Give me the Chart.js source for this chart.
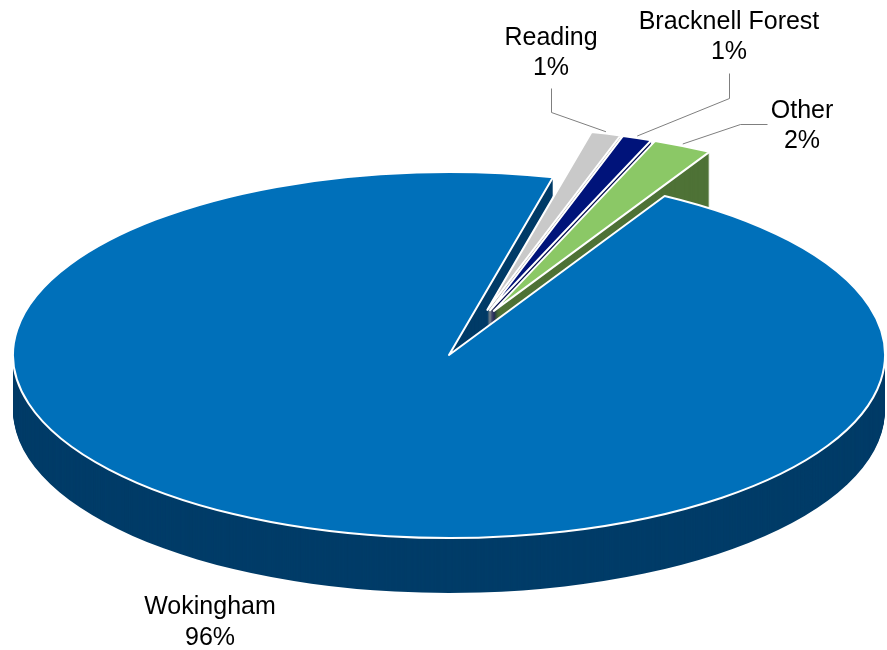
<!DOCTYPE html>
<html>
<head>
<meta charset="utf-8">
<script src="https://cdn.jsdelivr.net/npm/chart.js@4.4.1/dist/chart.umd.min.js"></script>
<style>
  html, body { margin: 0; padding: 0; background: #ffffff; }
  canvas { display: block; }
</style>
</head>
<body>
<canvas id="pie-chart" width="887" height="650"></canvas>
<script>
// values (labels show them rounded)
const categories = ['Reading', 'Bracknell Forest', 'Other', 'Wokingham'];
const shares = [1.1, 1.1, 2.2, 95.6];
const topColours = ['#C9C9C9', '#00137A', '#8BC866', '#0070BA'];
const sideColours = ['#8E8E8E', '#000A4E', '#4E7236', '#003C68'];
const exploded = [true, true, true, false];

// 3d look: ellipse on screen, depth of the rim
const CX = 449, CY = 355, RX = 436, RY = 183, DEPTH = 55;
const EXPLODE = 0.262;
const SPREAD = 0.35; // exploded slices move out roughly together

// where the label text sits and where its leader line bends
const labelSpots = [
  { x: 551, y: [45, 75], bend: [[551, 88], [551, 112]] },
  { x: 729, y: [29, 59], bend: [[729, 73], [729, 98]] },
  { x: 802, y: [118, 148], bend: [[767, 124], [740, 124]] },
  { x: 210, y: [614, 645], bend: null },
];

const getSlices = (chart) => {
  const arcs = chart.getDatasetMeta(0).data;
  const out = arcs.filter((a, i) => exploded[i]);
  const groupMid = out.length
    ? (Math.min(...out.map((a) => a.startAngle)) + Math.max(...out.map((a) => a.endAngle))) / 2
    : 0;
  return arcs.map((arc, i) => {
    const mid = (arc.startAngle + arc.endAngle) / 2;
    const dir = groupMid + SPREAD * (mid - groupMid);
    const e = exploded[i] ? EXPLODE : 0;
    return {
      i: i,
      start: arc.startAngle,
      end: arc.endAngle,
      mid: mid,
      ox: CX + Math.cos(dir) * e * RX,
      oy: CY + Math.sin(dir) * e * RY,
    };
  });
};

const slicePath = (ctx, s, dz) => {
  ctx.beginPath();
  ctx.moveTo(s.ox, s.oy + dz);
  ctx.ellipse(s.ox, s.oy + dz, RX, RY, 0, s.start, s.end, false);
  ctx.closePath();
};

const drawSide = (ctx, s) => {
  ctx.fillStyle = sideColours[s.i];
  for (let dz = DEPTH; dz >= 1; dz--) {
    slicePath(ctx, s, dz);
    ctx.fill();
  }
};

const drawTop = (ctx, s) => {
  slicePath(ctx, s, 0);
  ctx.fillStyle = topColours[s.i];
  ctx.fill();
  ctx.lineWidth = 2;
  ctx.strokeStyle = '#ffffff';
  ctx.lineJoin = 'round';
  ctx.stroke();
};

const pie3d = {
  id: 'pie3d',
  beforeDatasetsDraw(chart) {
    const ctx = chart.ctx;
    const slices = getSlices(chart);
    const big = slices.filter((s) => !exploded[s.i]);
    const small = slices.filter((s) => exploded[s.i]);
    ctx.save();
    big.forEach((s) => drawSide(ctx, s));
    small.forEach((s) => {
      drawSide(ctx, s);
      drawTop(ctx, s);
    });
    big.forEach((s) => drawTop(ctx, s));
    ctx.restore();
    return false;
  },
  afterDraw(chart) {
    const ctx = chart.ctx;
    const slices = getSlices(chart);
    const total = shares.reduce((a, b) => a + b, 0);
    ctx.save();
    ctx.font = '25px "Liberation Sans", Arial, sans-serif';
    ctx.fillStyle = '#000000';
    ctx.textAlign = 'center';
    ctx.textBaseline = 'alphabetic';
    slices.forEach((s) => {
      const spot = labelSpots[s.i];
      const pct = Math.round(shares[s.i] / total * 100) + '%';
      ctx.fillText(categories[s.i], spot.x, spot.y[0]);
      ctx.fillText(pct, spot.x, spot.y[1]);
      if (spot.bend) {
        const ax = s.ox + Math.cos(s.mid) * RX;
        const ay = s.oy + Math.sin(s.mid) * RY;
        ctx.beginPath();
        ctx.moveTo(spot.bend[0][0] + 0.5, spot.bend[0][1] + 0.5);
        ctx.lineTo(spot.bend[1][0] + 0.5, spot.bend[1][1] + 0.5);
        ctx.lineTo(ax, ay - 2);
        ctx.strokeStyle = '#7f7f7f';
        ctx.lineWidth = 1;
        ctx.stroke();
      }
    });
    ctx.restore();
  },
};

new Chart(document.getElementById('pie-chart').getContext('2d'), {
  type: 'pie',
  data: {
    labels: categories,
    datasets: [
      {
        data: shares,
        backgroundColor: topColours,
        borderWidth: 0,
      },
    ],
  },
  options: {
    responsive: false,
    animation: false,
    events: [],
    rotation: 13.8,
    plugins: {
      legend: { display: false },
      tooltip: { enabled: false },
    },
  },
  plugins: [pie3d],
});
</script>
</body>
</html>
